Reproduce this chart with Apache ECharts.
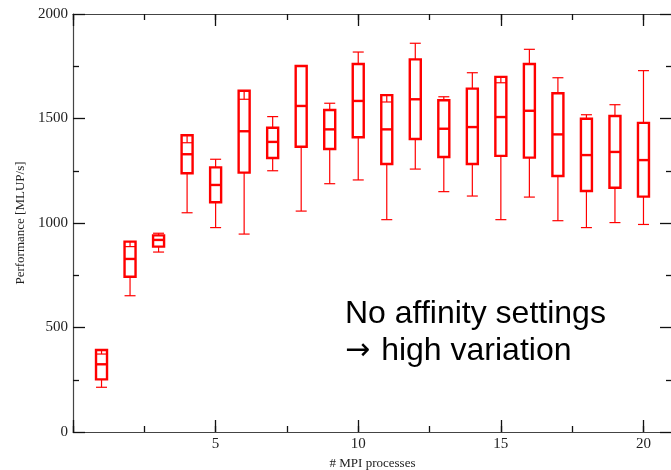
<!DOCTYPE html>
<html><head><meta charset="utf-8">
<script src="https://cdn.jsdelivr.net/npm/echarts@6/dist/echarts.min.js"></script>
<style>html,body{margin:0;padding:0;background:#fff}#c{width:671px;height:470px}</style>
</head><body><div id="c"></div>
<script>
const processes   = [1, 2, 3, 4, 5, 6, 7, 8, 9, 10, 11, 12, 13, 14, 15, 16, 17, 18, 19, 20];
const whiskerLow  = [214, 652, 861, 1049, 978, 947, 1250, 1057, 1188, 1206, 1016, 1258, 1150, 1129, 1016, 1124, 1011, 978, 1002, 993];
const quartile1   = [252, 743, 887, 1238, 1099, 1241, 1311, 1365, 1354, 1410, 1282, 1402, 1316, 1282, 1321, 1313, 1225, 1153, 1169, 1126];
const medians     = [324, 828, 919, 1329, 1182, 1439, 1388, 1560, 1448, 1584, 1448, 1592, 1451, 1459, 1507, 1537, 1424, 1325, 1340, 1301];
const quartile3   = [392, 911, 941, 1420, 1266, 1633, 1456, 1751, 1541, 1761, 1612, 1783, 1587, 1643, 1699, 1761, 1621, 1499, 1512, 1479];
const whiskerHigh = [373, 887, 951, 1384, 1305, 1592, 1509, 1751, 1573, 1818, 1579, 1860, 1604, 1719, 1671, 1831, 1695, 1518, 1566, 1729];
const xMajorTicks = [5, 10, 15, 20];
const annotationLine1 = 'No affinity settings';
const annotationArrow = '\u2192';
const annotationLine2 = 'high variation';

const boxData = processes.map((p, i) => [p, whiskerLow[i], quartile1[i], medians[i], quartile3[i], whiskerHigh[i]]);

const RED = '#ff0000';
function renderItem(params, api) {
  const x = api.value(0);
  const pMin = api.coord([x, api.value(1)]);
  const pQ1 = api.coord([x, api.value(2)]);
  const pMed = api.coord([x, api.value(3)]);
  const pQ3 = api.coord([x, api.value(4)]);
  const pMax = api.coord([x, api.value(5)]);
  const cx = pMed[0];
  const hw = 5.5;
  const thin = {stroke: RED, lineWidth: 1.2, fill: null};
  const thick = {stroke: RED, lineWidth: 2.4, fill: null};
  const children = [
    {type: 'rect', shape: {x: cx - hw, y: pQ3[1], width: 2 * hw, height: pQ1[1] - pQ3[1]}, style: thick},
    {type: 'line', shape: {x1: cx - hw, y1: pMed[1], x2: cx + hw, y2: pMed[1]}, style: thick},
    {type: 'line', shape: {x1: cx, y1: pQ1[1], x2: cx, y2: pMin[1]}, style: thin},
    {type: 'line', shape: {x1: cx - hw, y1: pMin[1], x2: cx + hw, y2: pMin[1]}, style: thin}
  ];
  if (api.value(5) !== api.value(4)) {
    children.push({type: 'line', shape: {x1: cx, y1: pQ3[1], x2: cx, y2: pMax[1]}, style: thin});
    children.push({type: 'line', shape: {x1: cx - hw, y1: pMax[1], x2: cx + hw, y2: pMax[1]}, style: thin});
  }
  return {type: 'group', children};
}

const serif = '"Liberation Serif", "Times New Roman", serif';
const axisLineStyle = {color: '#444', width: 1.2};
const tickStyle = {color: '#111', width: 1.3};

function xAxisBase(pos, interval, len, withLine) {
  return {
    type: 'value', position: pos, min: 0, max: 21, interval: interval,
    axisLine: {show: withLine, onZero: false, lineStyle: axisLineStyle},
    axisTick: {show: true, inside: true, length: len, lineStyle: tickStyle},
    axisLabel: {show: false},
    splitLine: {show: false}
  };
}

const xMain = xAxisBase('bottom', 5, 12, true);
xMain.axisLabel = {
  show: true, margin: 5, fontFamily: serif, fontSize: 15, color: '#222',
  formatter: v => (xMajorTicks.indexOf(v) >= 0 ? String(v) : '')
};
xMain.name = '# MPI processes';
xMain.nameLocation = 'middle';
xMain.nameGap = 22;
xMain.nameTextStyle = {fontFamily: serif, fontSize: 13, color: '#222'};

function yAxisBase(pos, labels) {
  return {
    type: 'value', position: pos, min: 0, max: 2000, interval: 500,
    axisLine: {show: true, onZero: false, lineStyle: axisLineStyle},
    axisTick: {show: true, inside: true, length: 12, lineStyle: tickStyle},
    minorTick: {show: true, splitNumber: 2, length: 6, lineStyle: tickStyle},
    axisLabel: {show: labels, margin: 5, fontFamily: serif, fontSize: 15, color: '#222', formatter: v => String(v)},
    splitLine: {show: false},
    minorSplitLine: {show: false}
  };
}
const yMain = yAxisBase('left', true);
yMain.name = 'Performance [MLUP/s]';
yMain.nameLocation = 'middle';
yMain.nameGap = 43;
yMain.nameTextStyle = {fontFamily: serif, fontSize: 13, color: '#222'};

const chart = echarts.init(document.getElementById('c'), null, {renderer: 'canvas'});
chart.setOption({
  animation: false,
  backgroundColor: '#fff',
  grid: {left: 73, right: -1, top: 14, bottom: 38, containLabel: false, outerBoundsMode: 'none'},
  xAxis: [
    xMain,
    xAxisBase('top', 5, 12, true),
    xAxisBase('bottom', 2.5, 6, false),
    xAxisBase('top', 2.5, 6, false)
  ],
  yAxis: [yMain, yAxisBase('right', false)],
  series: [{
    type: 'custom',
    xAxisIndex: 0, yAxisIndex: 0,
    renderItem: renderItem,
    encode: {x: 0, y: [1, 2, 3, 4, 5]},
    data: boxData,
    clip: false
  }],
  graphic: [{
    type: 'text', left: 345, top: 296,
    style: {
      text: annotationLine1 + '\n{a|' + annotationArrow + '}' + annotationLine2,
      font: '32px "Liberation Sans", Arial, sans-serif',
      fill: '#000', lineHeight: 37,
      rich: {a: {fontFamily: '"DejaVu Sans"', fontSize: 30, lineHeight: 37, fill: '#000', padding: [0, 11, 0, 0]}}
    }
  }]
});
</script>
</body></html>
